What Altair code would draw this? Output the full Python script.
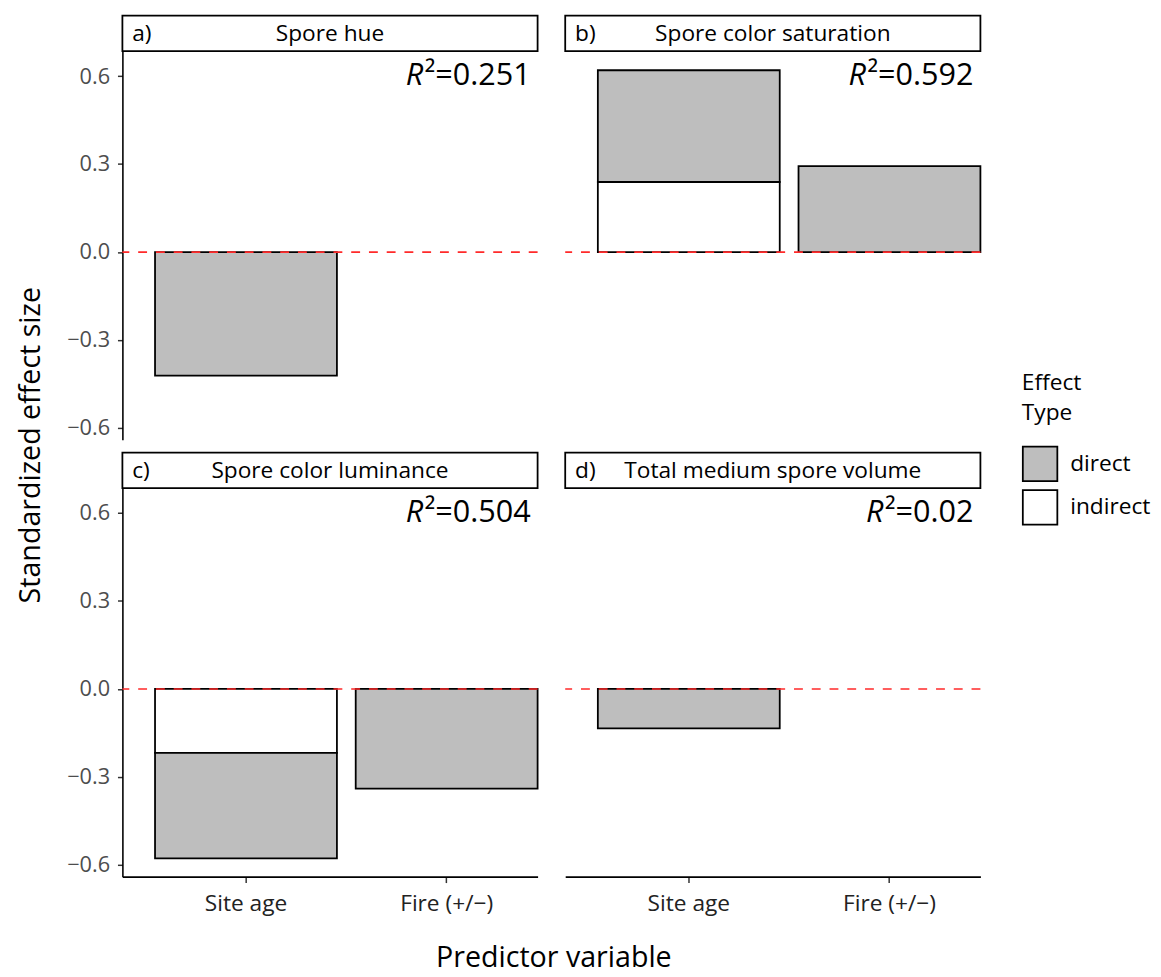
import altair as alt
import pandas as pd

# ---- data ----
panel_tags = ["a)", "b)", "c)", "d)"]
panel_titles = ["Spore hue", "Spore color saturation", "Spore color luminance", "Total medium spore volume"]
r2_values = ["0.251", "0.592", "0.504", "0.02"]
predictors = ["Site age", "Fire (+/−)"]
effect_types = ["direct", "indirect"]
effect_colors = ["#bebebe", "#ffffff"]

site_direct = [-0.421, 0.381, -0.360, -0.134]
site_indirect = [0.0, 0.239, -0.218, 0.0]
fire_direct = [0.0, 0.293, -0.340, 0.0]

y_ticks = [-0.6, -0.3, 0.0, 0.3, 0.6]
y_domain = [-0.64, 0.685]

# ---- layout / style ----
W, H = 421, 394
FONT = "Open Sans"
R2_SIZE = 31
CHAR_W = {"²": 0.36, "=": 0.572, ".": 0.266}


def text_width(s, size):
    return sum(CHAR_W.get(c, 0.572) for c in s) * size


rows = []
for i in range(4):
    for pred, et, v in [
        (predictors[0], "indirect", site_indirect[i]),
        (predictors[0], "direct", site_direct[i]),
        (predictors[1], "direct", fire_direct[i]),
    ]:
        if v != 0:
            rows.append({"panel": i, "predictor": pred, "effect": et, "value": v,
                         "ord": 0 if et == "indirect" else 1})
bars_all = pd.DataFrame(rows)

x_scale = alt.Scale(domain=predictors, paddingInner=0.0936, paddingOuter=0.0813, align=1)
y_scale = alt.Scale(domain=y_domain, nice=False, zero=False)
fill_scale = alt.Scale(domain=effect_types, range=effect_colors)

legend = alt.Legend(
    orient="none", legendX=912, legendY=326,
    title=["Effect", "Type"], titleFont=FONT, titleFontSize=23, titleFontWeight="normal",
    titleColor="black", titleAnchor="start", titleAlign="left", titleLineHeight=30,
    titlePadding=21,
    labelFont=FONT, labelFontSize=23, labelColor="black", labelOffset=12,
    symbolType="square", symbolSize=1225, symbolStrokeColor="black",
    symbolStrokeWidth=1.8, symbolOpacity=1, rowPadding=1,
)


def panel(i):
    show_y = i in (0, 2)
    show_x = i in (2, 3)
    if show_y:
        y_axis = alt.Axis(
            values=y_ticks, format=".1f", grid=False,
            labelFont=FONT, labelFontSize=22, labelColor="#4d4d4d", labelPadding=8,
            tickSize=5, tickColor="#333333", tickWidth=1.5,
            domainColor="black", domainWidth=1.6,
            title="Standardized effect size" if i == 0 else None,
            titleFont=FONT, titleFontSize=29, titleFontWeight="normal", titleColor="black",
            titleAngle=270, titleX=-84, titleY=399, titleAlign="center",
            titleBaseline="alphabetic",
        )
    else:
        y_axis = None
    if show_x:
        x_axis = alt.Axis(
            labelAngle=0, labelFont=FONT, labelFontSize=23, labelColor="#222222",
            labelPadding=10, tickSize=6, tickColor="#333333", tickWidth=1.5,
            domainColor="black", domainWidth=1.6,
            title="Predictor variable" if i == 2 else None,
            titleFont=FONT, titleFontSize=29, titleFontWeight="normal", titleColor="black",
            titleX=437, titleY=91, titleAlign="center", titleBaseline="alphabetic",
        )
    else:
        x_axis = None

    bars = alt.Chart(bars_all[bars_all["panel"] == i]).mark_bar(
        stroke="black", strokeWidth=1.8
    ).encode(
        x=alt.X("predictor:N", sort=predictors, scale=x_scale, axis=x_axis),
        y=alt.Y("value:Q", stack="zero", scale=y_scale, axis=y_axis),
        fill=alt.Fill("effect:N", scale=fill_scale, legend=legend),
        order=alt.Order("ord:Q"),
    )

    zero = alt.Chart(pd.DataFrame({"value": [0.0]})).mark_rule(
        color="#ff2a2a", strokeDash=[9, 9], strokeWidth=1.7
    ).encode(y=alt.Y("value:Q", scale=y_scale))

    info = pd.DataFrame({"tag": [panel_tags[i]], "title": [panel_titles[i]],
                         "rest": ["²=" + r2_values[i]]})
    strip = alt.Chart(info).mark_rect(fill="white", stroke="black", strokeWidth=1.8).encode(
        x=alt.value(0), x2=alt.value(W), y=alt.value(-36), y2=alt.value(0)
    )
    tag = alt.Chart(info).mark_text(
        align="left", baseline="alphabetic", font=FONT, fontSize=23, color="black"
    ).encode(x=alt.value(10), y=alt.value(-10), text="tag:N")
    title = alt.Chart(info).mark_text(
        align="center", baseline="alphabetic", font=FONT, fontSize=23, color="black"
    ).encode(x=alt.value(W / 2), y=alt.value(-10), text="title:N")

    rest_w = text_width("²=" + r2_values[i], R2_SIZE)
    r2_rest = alt.Chart(info).mark_text(
        align="right", baseline="alphabetic", font=FONT, fontSize=R2_SIZE, color="black"
    ).encode(x=alt.value(W - 7), y=alt.value(34), text="rest:N")
    r2_r = alt.Chart(info).mark_text(
        align="right", baseline="alphabetic", font=FONT, fontSize=R2_SIZE,
        fontStyle="italic", color="black", text="R"
    ).encode(x=alt.value(W - 7 - rest_w - 1), y=alt.value(34))

    return alt.layer(bars, zero, strip, tag, title, r2_rest, r2_r).properties(width=W, height=H)


chart = alt.concat(
    panel(0), panel(1), panel(2), panel(3),
    columns=2, spacing={"row": 49, "column": 28}, bounds="flush",
).properties(
    padding={"left": 9, "top": 0, "right": 2, "bottom": 2}
).configure(font=FONT).configure_view(stroke=None)

chart.save("out.html", embed_options={"renderer": "svg", "actions": False})
